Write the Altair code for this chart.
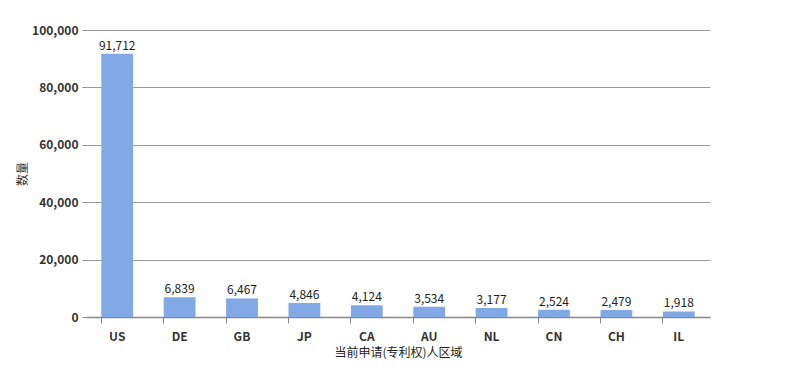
import altair as alt
import pandas as pd

regions = ["US", "DE", "GB", "JP", "CA", "AU", "NL", "CN", "CH", "IL"]
counts = [91712, 6839, 6467, 4846, 4124, 3534, 3177, 2524, 2479, 1918]

df = pd.DataFrame({"region": regions, "count": counts})
FONT = "Noto Sans CJK SC"

base = alt.Chart(df).encode(
    x=alt.X("region:N", sort=regions, title="当前申请(专利权)人区域",
            scale=alt.Scale(paddingInner=0.49, paddingOuter=0.245),
            axis=alt.Axis(labelAngle=0, labelFont=FONT, labelFontSize=12,
                          labelFontWeight="bold", labelColor="#333333",
                          labelPadding=8, bandPosition=0, tickColor="#888888",
                          tickSize=6, domainColor="#888888", domainWidth=1.5,
                          titleFont=FONT, titleFontSize=12, titleFontWeight="normal",
                          titleColor="#222222", titlePadding=5)),
)

bars = base.mark_bar(color="#82A8E6").encode(
    y=alt.Y("count:Q", title="数量",
            scale=alt.Scale(domain=[0, 100000], nice=False),
            axis=alt.Axis(values=[0, 20000, 40000, 60000, 80000, 100000],
                          format=",.0f", labelFont=FONT, labelFontSize=12,
                          labelFontWeight="bold", labelColor="#333333",
                          domain=False, tickColor="#888888", tickSize=4,
                          gridColor="#999999", gridWidth=1, labelPadding=4,
                          titleFont=FONT, titleFontSize=12, titleFontWeight="normal",
                          titleColor="#333333", titlePadding=2)),
)

labels = base.mark_text(dy=-8, font=FONT, fontSize=12, color="#222222").encode(
    y=alt.Y("count:Q"),
    text=alt.Text("count:Q", format=",.0f"),
)

chart = (bars + labels).properties(
    width=624, height=287,
    autosize=alt.AutoSizeParams(type="none"),
    padding={"left": 78, "top": 22, "right": 87, "bottom": 43},
).configure_view(stroke=None)

chart.save("out.html", embed_options={"renderer": "svg", "actions": False})
